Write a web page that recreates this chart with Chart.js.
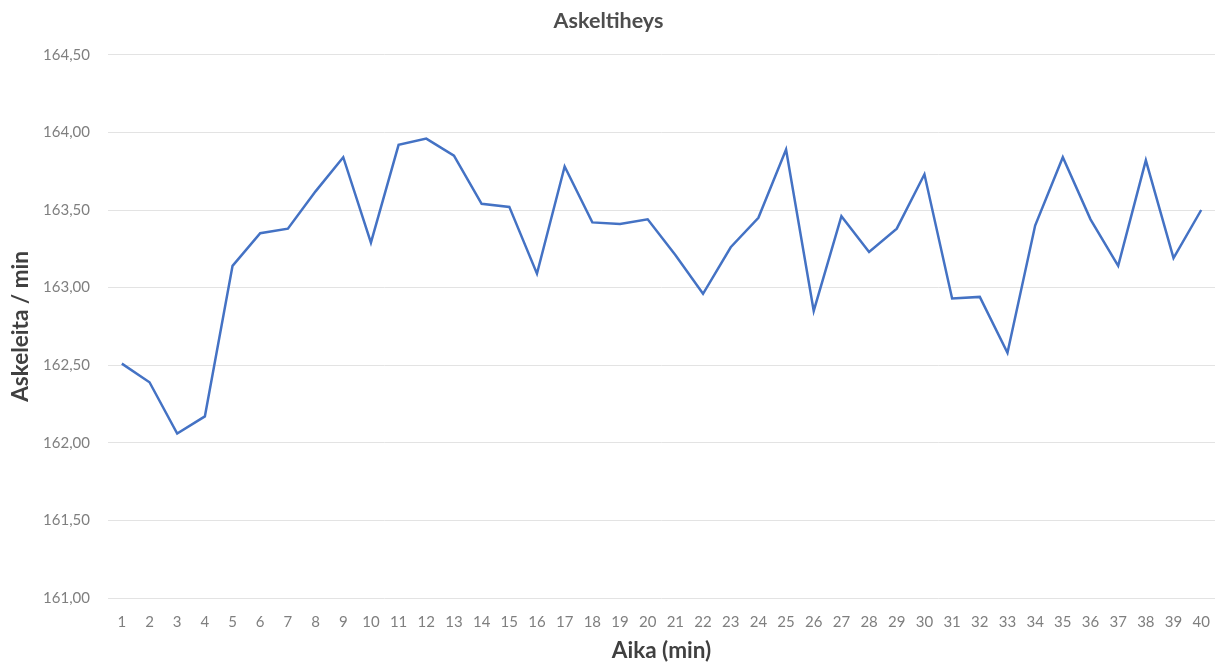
<!DOCTYPE html>
<html>
<head>
<meta charset="utf-8">
<script src="https://cdn.jsdelivr.net/npm/chart.js@4/dist/chart.umd.min.js"></script>
<style>
  html, body { margin: 0; padding: 0; background: #fff; }
  #wrap { width: 1225px; height: 666px; }
</style>
</head>
<body>
<div id="wrap"><canvas id="lineChart" width="1225" height="666"></canvas></div>
<script>
// minuutit 1..40
var minutes = [];
for (var m = 1; m <= 40; m++) minutes.push(String(m));

// askeltiheys (askelta / min) minuutin välein
var cadence = [
  162.51, 162.39, 162.06, 162.17, 163.14, 163.35, 163.38, 163.62, 163.84, 163.29,
  163.92, 163.96, 163.85, 163.54, 163.52, 163.09, 163.78, 163.42, 163.41, 163.44,
  163.21, 162.96, 163.26, 163.45, 163.89, 162.85, 163.46, 163.23, 163.38, 163.73,
  162.93, 162.94, 162.58, 163.40, 163.84, 163.44, 163.14, 163.82, 163.19, 163.50
];

var yMin = 161, yMax = 164.5, yStep = 0.5;

var fontFam = "Lato, 'Open Sans', sans-serif";

var lineData = {
  labels: minutes,
  datasets: [{
    label: "Askeltiheys",
    data: cadence,
    borderColor: "#4472c4",
    backgroundColor: "#4472c4",
    borderWidth: 2.5,
    pointRadius: 0,
    tension: 0,
    fill: false
  }]
};

var lineOptions = {
  responsive: false,
  animation: false,
  layout: { padding: { left: 0, right: 8, top: 0, bottom: 0 } },
  plugins: {
    legend: { display: false },
    tooltip: { enabled: false },
    title: {
      display: true,
      text: "Askeltiheys",
      color: "#4d4d4d",
      font: { family: fontFam, size: 21.5, weight: "bold", lineHeight: 1.2 },
      padding: { top: 8, bottom: 21 }
    }
  },
  scales: {
    x: {
      offset: true,
      grid: { display: false, drawTicks: false },
      border: { display: false },
      ticks: {
        color: "#7f7f7f",
        font: { family: fontFam, size: 15 },
        padding: 15,
        maxRotation: 0,
        autoSkip: false
      },
      title: {
        display: true,
        text: "Aika (min)",
        color: "#404040",
        font: { family: fontFam, size: 22.5, weight: "bold", lineHeight: 1.2 },
        padding: { top: 0, bottom: 2 }
      },
      afterFit: function (s) { s.height = 68; }
    },
    y: {
      min: yMin,
      max: yMax,
      grid: { color: "#e3e3e3", lineWidth: 1, drawTicks: false },
      border: { display: false },
      ticks: {
        stepSize: yStep,
        color: "#7f7f7f",
        font: { family: fontFam, size: 15 },
        padding: 18,
        callback: function (v) { return v.toFixed(2).replace(".", ","); }
      },
      title: {
        display: true,
        text: "Askeleita / min",
        color: "#404040",
        font: { family: fontFam, size: 22.5, weight: "bold", lineHeight: 1.2 },
        padding: { top: 7, bottom: 0 }
      },
      afterFit: function (s) { s.width = 108; }
    }
  }
};

var ctx = document.getElementById("lineChart").getContext("2d");
new Chart(ctx, { type: 'line', data: lineData, options: lineOptions });
</script>
</body>
</html>
